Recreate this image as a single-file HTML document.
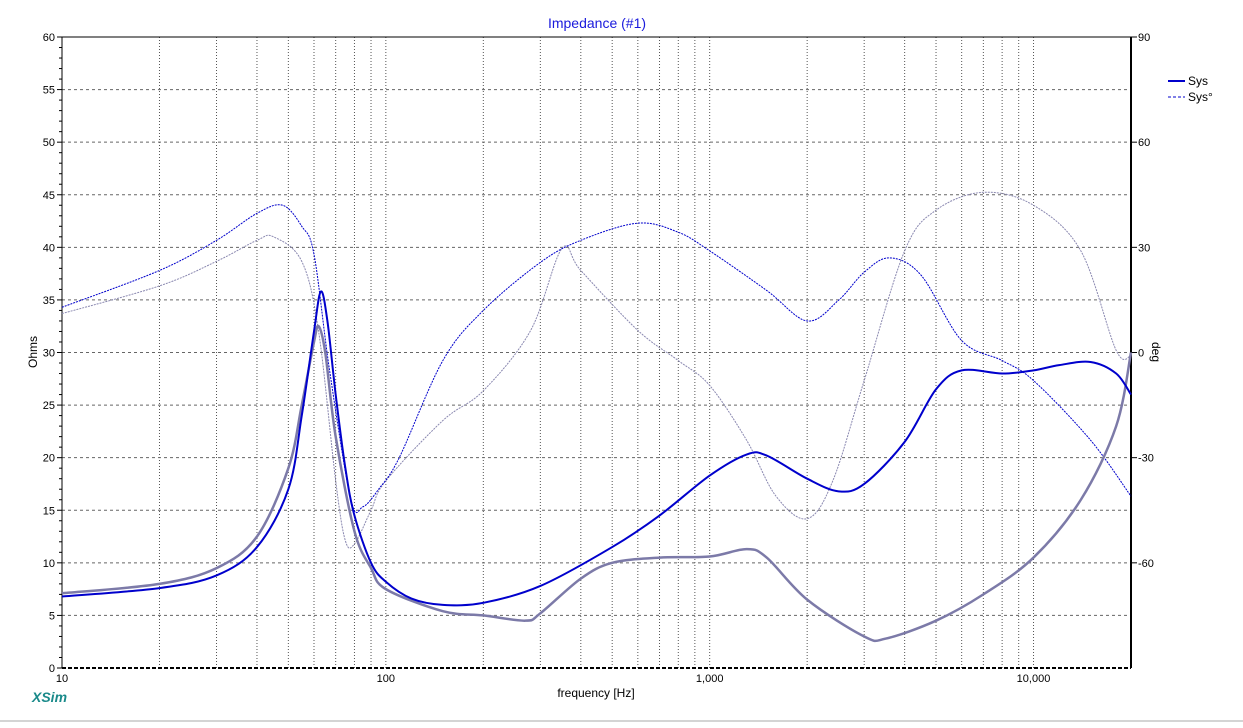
<!DOCTYPE html>
<html><head><meta charset="utf-8"><style>
body{margin:0;background:#fff;width:1243px;height:723px;overflow:hidden;font-family:"Liberation Sans",sans-serif}
svg text{font-family:"Liberation Sans",sans-serif}
</style></head><body>
<svg id="c" width="1243" height="723" xmlns="http://www.w3.org/2000/svg"></svg>
<script>
const yTicksOhm=[0,5,10,15,20,25,30,35,40,45,50,55,60];
const yTicksDeg=[90,60,30,0,-30,-60];
const xLabels=[10,100,1000,10000];
const xLabelText=["10","100","1,000","10,000"];
const magFreqA=[10,20,30,40,50,55,60,63,66,70,75,80,90,100,120,150,200,300,500,700,1000,1300,1500,2000,2500,3000,4000,5000,6000,8000,10000,12000,15000,18000,20000];
const magA=[6.8,7.6,8.8,11.5,17,24,32,35.8,33,26,19,14.5,10,8.2,6.6,6.0,6.2,7.8,11.5,14.5,18.3,20.3,20.2,18,16.8,17.5,21.5,26.5,28.3,28,28.3,28.8,29.1,28,26];
const magFreqB=[10,20,30,40,50,55,60,62,65,70,80,90,100,150,200,270,300,400,500,700,1000,1300,1500,2000,3000,3500,5000,7000,10000,14000,18000,20000];
const magB=[7.1,8,9.5,12.5,19,25,31,32.5,30,22,13,9.5,7.5,5.4,5.0,4.5,5.2,8.5,10,10.5,10.6,11.3,10.5,6.5,3,2.8,4.5,7,10.5,16,23,30];
const phFreqA=[10,20,30,40,48,55,60,67,78,85,95,110,150,200,300,400,600,800,1000,1500,2000,2500,3000,3600,4500,6000,8000,10000,15000,20000];
const phA=[12.9,23.4,32,39.7,42,36,28,-5,-42,-44,-39,-30,-2.3,12,25.7,32,36.9,34.3,29,17.7,9,14.9,22.9,27,22,3.4,-2.3,-8,-25,-41];
const phFreqB=[10,20,30,40,45,55,62,70,75,80,90,100,150,200,280,350,400,600,800,1000,1300,1600,2000,2400,3000,4000,5000,7000,10000,14000,18000,20000];
const phB=[11.1,19,26,32,33,26,6,-36.6,-53.7,-54.6,-45,-36.6,-19.4,-10.9,6.3,29.7,23.4,6.3,-2.3,-9.4,-25,-40.9,-47.4,-36.6,-8,29,40.6,45.7,42,29,0.6,-0.9];

const L=62,R=1131,T=37,B=668;
const X=f=>L+(Math.log10(f)-1)*(R-L)/(Math.log10(20000)-1);
const Y=o=>B-o*(B-T)/60;
const YD=d=>B-(d+90)*(B-T)/180;
const svg=document.getElementById('c');
const NS="http://www.w3.org/2000/svg";
function el(t,a,txt){const e=document.createElementNS(NS,t);for(const k in a)e.setAttribute(k,a[k]);if(txt!==undefined)e.textContent=txt;svg.appendChild(e);return e;}

for(let d=10;d<=10000;d*=10){for(let k=1;k<10;k++){const f=d*k;if(f>20000||f===10)continue;
 const g=el('line',{x1:X(f),x2:X(f),y1:T,y2:B,stroke:'#555','stroke-width':1,'stroke-dasharray':'1,2'});
 
 }}
yTicksOhm.forEach(v=>{
 if(v>0&&v<60){const g=el('line',{x1:L,x2:R,y1:Y(v),y2:Y(v),stroke:'#666','stroke-width':1,'stroke-dasharray':'3,3'});
 
 }
 el('line',{x1:L-5,x2:L,y1:Y(v),y2:Y(v),stroke:'#000'});
 const t=el('text',{x:L-7,y:Y(v)+4,'text-anchor':'end','font-size':11,fill:'#000'},String(v));
 
 
});
for(let v=1;v<60;v++){if(v%5)el('line',{x1:L-3,x2:L,y1:Y(v),y2:Y(v),stroke:'#000'});}
el('line',{x1:R,x2:R,y1:T,y2:B,stroke:'#000','stroke-width':2});
el('line',{x1:L,x2:L,y1:T,y2:B,stroke:'#000','stroke-width':1});
el('line',{x1:L,x2:R,y1:T,y2:T,stroke:'#000','stroke-width':1});
el('line',{x1:L,x2:R,y1:B,y2:B,stroke:'#000','stroke-width':2,'stroke-dasharray':'4,2'});
yTicksDeg.forEach(v=>{
 el('line',{x1:R,x2:R+6,y1:YD(v),y2:YD(v),stroke:'#000'});
 const t=el('text',{x:R+7,y:YD(v)+4,'font-size':11,fill:'#000'},String(v));
 
 
});
xLabels.forEach((f,i)=>{
 const t=el('text',{x:X(f),y:682,'text-anchor':'middle','font-size':11,fill:'#000'},xLabelText[i]);
 
 
});

function path(fr,vals,fy){
 const p=fr.map((f,i)=>[X(f),fy(vals[i])]);
 let d='M'+p[0][0]+','+p[0][1];
 for(let i=0;i<p.length-1;i++){const p0=p[Math.max(0,i-1)],p1=p[i],p2=p[i+1],p3=p[Math.min(p.length-1,i+2)];
  const c1x=p1[0]+(p2[0]-p0[0])/6,c1y=p1[1]+(p2[1]-p0[1])/6,c2x=p2[0]-(p3[0]-p1[0])/6,c2y=p2[1]-(p3[1]-p1[1])/6;
  d+=` C${c1x},${c1y} ${c2x},${c2y} ${p2[0]},${p2[1]}`;}
 return d;}
let s;
s=el('path',{d:path(phFreqB,phB,YD),fill:'none',stroke:'#8a88b0','stroke-width':1,'stroke-dasharray':'2,1'});


s=el('path',{d:path(phFreqA,phA,YD),fill:'none',stroke:'#0000cc','stroke-width':1,'stroke-dasharray':'2,1'});


s=el('path',{d:path(magFreqB,magB,Y),fill:'none',stroke:'#7c7aa8','stroke-width':2.5});


s=el('path',{d:path(magFreqA,magA,Y),fill:'none',stroke:'#0000cc','stroke-width':2});



let t=el('text',{x:597,y:28,'text-anchor':'middle','font-size':14,fill:'#1a1adc'},'Impedance (#1)');


t=el('text',{x:596,y:697,'text-anchor':'middle','font-size':12,fill:'#000'},'frequency [Hz]');


t=el('text',{x:0,y:0,'text-anchor':'middle','font-size':12,fill:'#000',transform:'translate(37,352) rotate(-90)'},'Ohms');


t=el('text',{x:0,y:0,'text-anchor':'middle','font-size':12,fill:'#000',transform:'translate(1152,352) rotate(90)'},'deg');


t=el('text',{x:32,y:702,'font-size':14,'font-weight':'bold','font-style':'italic',fill:'#1a8a8a'},'XSim');


el('line',{x1:0,x2:1243,y1:721,y2:721,stroke:'#aaa','stroke-width':1});
el('line',{x1:1168,x2:1185,y1:81,y2:81,stroke:'#0000cc','stroke-width':2});
t=el('text',{x:1188,y:85,'font-size':12,fill:'#000'},'Sys');


el('line',{x1:1168,x2:1185,y1:97,y2:97,stroke:'#0000cc','stroke-width':1,'stroke-dasharray':'3,2'});
t=el('text',{x:1188,y:101,'font-size':12,fill:'#000'},'Sys°');


</script>
</body></html>
